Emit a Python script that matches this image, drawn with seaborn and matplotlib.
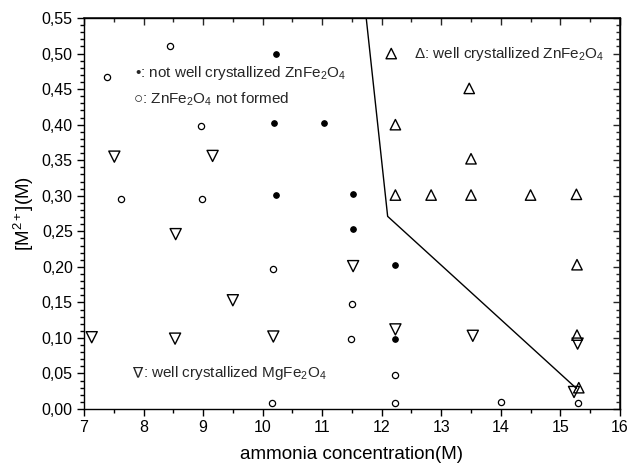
import matplotlib
matplotlib.use("Agg")
import matplotlib.pyplot as plt
from matplotlib.ticker import MultipleLocator, FuncFormatter
import seaborn as sns

# Data
filled_x = [10.22, 10.19, 11.03, 10.22, 11.52, 11.52, 12.23, 12.23]
filled_y = [0.500, 0.403, 0.403, 0.301, 0.303, 0.253, 0.203, 0.099]

open_x = [8.44, 7.38, 8.97, 7.62, 8.99, 10.18, 11.50, 11.48, 10.16, 12.22, 12.22, 14.01, 15.29]
open_y = [0.510, 0.467, 0.398, 0.295, 0.296, 0.197, 0.148, 0.098, 0.008, 0.048, 0.009, 0.010, 0.009]

down_x = [7.51, 9.16, 8.54, 9.50, 7.13, 8.53, 10.18, 11.52, 12.23, 13.53, 15.29, 15.23]
down_y = [0.355, 0.356, 0.246, 0.153, 0.101, 0.099, 0.102, 0.201, 0.112, 0.103, 0.092, 0.024]

up_x = [12.16, 13.47, 12.23, 13.50, 12.23, 12.83, 13.50, 14.50, 15.27, 15.28, 15.28, 15.31]
up_y = [0.500, 0.451, 0.400, 0.352, 0.301, 0.301, 0.301, 0.301, 0.302, 0.203, 0.104, 0.030]

boundary_x = [11.74, 12.10, 15.27]
boundary_y = [0.550, 0.271, 0.029]

x_label = "ammonia concentration(M)"
y_label = "[M$^{2+}$](M)"

sns.set_theme(style="ticks")
plt.rcParams['font.family'] = ['Liberation Sans', 'DejaVu Sans']
plt.rcParams['mathtext.fontset'] = 'custom'
plt.rcParams['mathtext.rm'] = 'Liberation Sans'
plt.rcParams['mathtext.it'] = 'Liberation Sans'

fig = plt.figure(figsize=(6.29, 4.68), dpi=100)
ax = fig.add_axes([0.1335, 0.126, 0.852, 0.8355])

sns.lineplot(x=boundary_x, y=boundary_y, ax=ax, color="black", lw=1.0, sort=False)

sns.scatterplot(x=filled_x, y=filled_y, ax=ax, marker="o", s=16,
                color="black", edgecolor="black", linewidth=0.8)
sns.scatterplot(x=open_x, y=open_y, ax=ax, marker="o", s=20,
                facecolor="white", edgecolor="black", linewidth=0.9)
sns.scatterplot(x=down_x, y=down_y, ax=ax, marker="v", s=64,
                facecolor="none", edgecolor="black", linewidth=1.0)
sns.scatterplot(x=up_x, y=up_y, ax=ax, marker="^", s=56,
                facecolor="none", edgecolor="black", linewidth=1.0)

fs = 11
ax.text(7.85, 0.473, "\u2022: not well crystallized ZnFe$_2$O$_4$", fontsize=fs, va="center")
ax.text(7.83, 0.436, "\u25cb: ZnFe$_2$O$_4$ not formed", fontsize=fs, va="center")
ax.text(12.55, 0.500, "\u0394: well crystallized ZnFe$_2$O$_4$", fontsize=fs, va="center")
ax.text(7.80, 0.051, "\u2207", fontsize=fs, va="center", family="DejaVu Sans")
ax.annotate(": well crystallized MgFe$_2$O$_4$", xy=(7.80, 0.051), xytext=(8.5, 0),
            textcoords="offset points", fontsize=fs, va="center")

ax.set_xlim(7, 16)
ax.set_ylim(0, 0.55)
ax.xaxis.set_major_locator(MultipleLocator(1))
ax.xaxis.set_minor_locator(MultipleLocator(0.5))
ax.yaxis.set_major_locator(MultipleLocator(0.05))
ax.yaxis.set_minor_locator(MultipleLocator(0.01))
ax.yaxis.set_major_formatter(FuncFormatter(lambda v, p: f"{v:.2f}".replace(".", ",")))

for s in ax.spines.values():
    s.set_color("black")
    s.set_linewidth(1.0)

ax.tick_params(axis="both", which="major", direction="out", length=5, width=1,
               labelsize=11.5, colors="black", pad=3)
ax.tick_params(axis="both", which="minor", direction="out", length=3, width=1, colors="black")

# inward ticks on top and right via secondary axes
top = ax.secondary_xaxis("top")
top.xaxis.set_major_locator(MultipleLocator(1))
top.xaxis.set_minor_locator(MultipleLocator(0.5))
top.tick_params(which="major", direction="in", length=5, width=1, labeltop=False)
top.tick_params(which="minor", direction="in", length=3, width=1)
right = ax.secondary_yaxis("right")
right.yaxis.set_major_locator(MultipleLocator(0.05))
right.yaxis.set_minor_locator(MultipleLocator(0.01))
right.tick_params(which="major", direction="in", length=5, width=1, labelright=False)
right.tick_params(which="minor", direction="in", length=3, width=1)
ax.tick_params(axis="x", which="both", top=False)
ax.tick_params(axis="y", which="both", right=False)

ax.set_xlabel(x_label, fontsize=13.5, color="black", labelpad=8)
ax.set_ylabel(y_label, fontsize=13.5, color="black", labelpad=4)

fig.savefig("out.png", dpi=100)
